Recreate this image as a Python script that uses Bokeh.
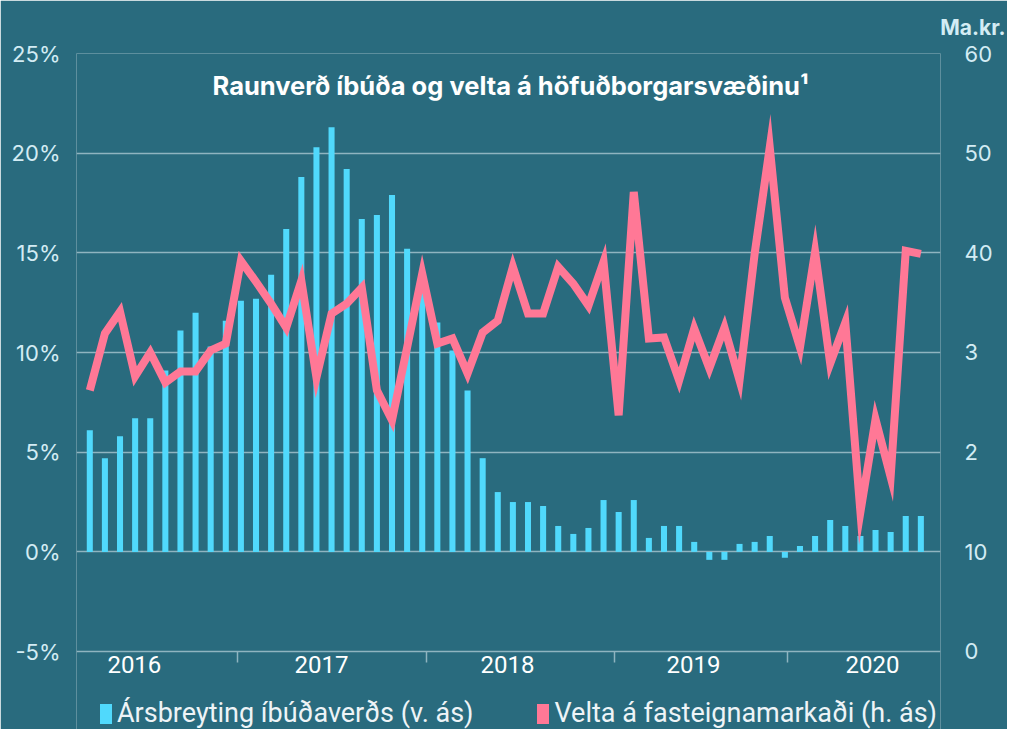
from bokeh.plotting import figure
from bokeh.models import (Range1d, LinearAxis, FixedTicker, Label, Legend, LegendItem, Title)
from bokeh.embed import file_html
from bokeh.resources import INLINE

# ---------------- data ----------------
months = list(range(56))  # monthly observations, 2016 -> 2020
arsbreyting = [6.1, 4.7, 5.8, 6.7, 6.7, 9.1, 11.1, 12.0, 10.3, 11.6, 12.6, 12.7,
               13.9, 16.2, 18.8, 20.3, 21.3, 19.2, 16.7, 16.9, 17.9, 15.2, 13.1, 11.5,
               10.1, 8.1, 4.7, 3.0, 2.5, 2.5, 2.3, 1.3, 0.9, 1.2, 2.6, 2.0,
               2.6, 0.7, 1.3, 1.3, 0.5, -0.4, -0.4, 0.4, 0.5, 0.8, -0.3, 0.3,
               0.8, 1.6, 1.3, 0.8, 1.1, 1.0, 1.8, 1.8]
velta = [26.2, 31.9, 34.1, 27.6, 30.0, 27.0, 28.1, 28.1, 30.2, 30.9, 39.2, 37.1,
         34.9, 32.5, 37.2, 27.5, 33.9, 34.9, 36.5, 26.2, 23.2, 30.5, 37.9, 30.9,
         31.4, 27.9, 32.0, 33.2, 38.6, 33.9, 33.9, 38.6, 36.9, 34.7, 39.1, 23.7,
         46.1, 31.4, 31.5, 27.2, 32.4, 28.4, 32.5, 27.2, 39.9, 50.6, 35.5, 30.5,
         40.1, 28.9, 33.0, 14.0, 23.3, 17.5, 40.2, 39.9]
years = ["2016", "2017", "2018", "2019", "2020"]
left_ticks = [-5, 0, 5, 10, 15, 20, 25]
right_ticks = [0, 10, 20, 30, 40, 50, 60]
right_tick_labels = ["0", "10", "2", "3", "40", "50", "60"]
title_text = "Raunverð íbúða og velta á höfuðborgarsvæðinu¹"
unit_text = "Ma.kr."
bar_label = "Ársbreyting íbúðaverðs (v. ás)"
line_label = "Velta á fasteignamarkaði (h. ás)"

# ---------------- style ----------------
BG = "#296b7e"
CYAN = "#50d9fc"
PINK = "#ff7896"
GRID = "#8fb4c0"
TICK_TXT = "#d3ecf4"

year_pos = [2.95, 15.33, 27.64, 39.95, 51.8]
sep_pos = [9.77, 22.28, 34.73, 46.16]

# the frame extends below the axis line so that the legend can sit inside it
p = figure(frame_width=864, frame_height=676, output_backend="svg", toolbar_location=None,
           x_range=Range1d(-0.88, 56.3), y_range=Range1d(-8.91, 25),
           min_border_left=76, min_border_right=67, min_border_top=53, min_border_bottom=0,
           background_fill_color=BG, border_fill_color=BG, outline_line_color=None)
p.extra_y_ranges = {"right": Range1d(-7.83, 60)}

bars = p.vbar(x=months, top=arsbreyting, bottom=0, width=0.4, fill_color=CYAN,
              line_color=None)
line = p.line(x=months, y=velta, y_range_name="right", line_color=PINK, line_width=8,
              line_join="miter")
# legend-only key (zero height, draws nothing in the plot)
pink_key = p.vbar(x=months[:1], top=[0], bottom=0, width=0.4, fill_color=PINK,
                  line_color=None)

# grid
p.xgrid.grid_line_color = None
p.ygrid.ticker = FixedTicker(ticks=[0, 5, 10, 15, 20, 25])
p.ygrid.grid_line_color = GRID
p.ygrid.grid_line_width = 1.5
p.ygrid.level = "underlay"

# left axis
ya = p.yaxis[0]
ya.ticker = FixedTicker(ticks=left_ticks)
ya.major_label_overrides = {t: f"{t}%" for t in left_ticks}
ya.axis_line_color = None
ya.major_tick_line_color = None
ya.minor_tick_line_color = None
ya.major_label_text_color = TICK_TXT
ya.major_label_text_font = "Inter"
ya.major_label_text_font_size = "22px"
ya.major_label_standoff = 10

# right axis
ra = LinearAxis(y_range_name="right", ticker=FixedTicker(ticks=right_ticks))
ra.major_label_overrides = dict(zip(right_ticks, right_tick_labels))
ra.axis_line_color = None
ra.major_tick_line_color = None
ra.minor_tick_line_color = None
ra.major_label_text_color = TICK_TXT
ra.major_label_text_font = "Inter"
ra.major_label_text_font_size = "22px"
ra.major_label_standoff = 18
p.add_layout(ra, "right")

# bottom axis, drawn at the -5% line
xa = p.xaxis[0]
xa.fixed_location = left_ticks[0]
xa.ticker = FixedTicker(ticks=year_pos, minor_ticks=sep_pos)
xa.major_label_overrides = dict(zip(year_pos, years))
xa.axis_line_color = GRID
xa.axis_line_width = 1.5
xa.major_tick_line_color = None
xa.minor_tick_line_color = GRID
xa.minor_tick_line_width = 1.5
xa.minor_tick_out = 11
xa.minor_tick_in = 0
xa.major_tick_out = 0
xa.major_label_standoff = -7
xa.major_label_text_color = "white"
xa.major_label_text_font = "Roboto"
xa.major_label_text_font_size = "24px"

# chart title inside the plot
p.add_layout(Label(x=27.84, y=23.4, text=title_text, text_align="center",
                   text_baseline="middle", text_color="white", text_font="Inter",
                   text_font_style="bold", text_font_size="25.5px"))
# unit label above right axis
p.add_layout(Title(text=unit_text, align="right", offset=-65, standoff=24,
                   vertical_align="top",
                   text_color=TICK_TXT, text_font="Inter", text_font_style="bold",
                   text_font_size="21px"), "above")

legend = Legend(items=[LegendItem(label=bar_label, renderers=[bars]),
                       LegendItem(label=line_label, renderers=[pink_key])],
                orientation="horizontal", location=(22, 0),
                background_fill_alpha=0, border_line_color=None,
                glyph_width=15, glyph_height=25, label_standoff=4, spacing=62,
                label_text_color="#eef4f7", label_text_font="Roboto",
                label_text_font_size="27px", padding=0, margin=0)
p.add_layout(legend, "center")

open("out.html", "w").write(file_html(p, INLINE))
